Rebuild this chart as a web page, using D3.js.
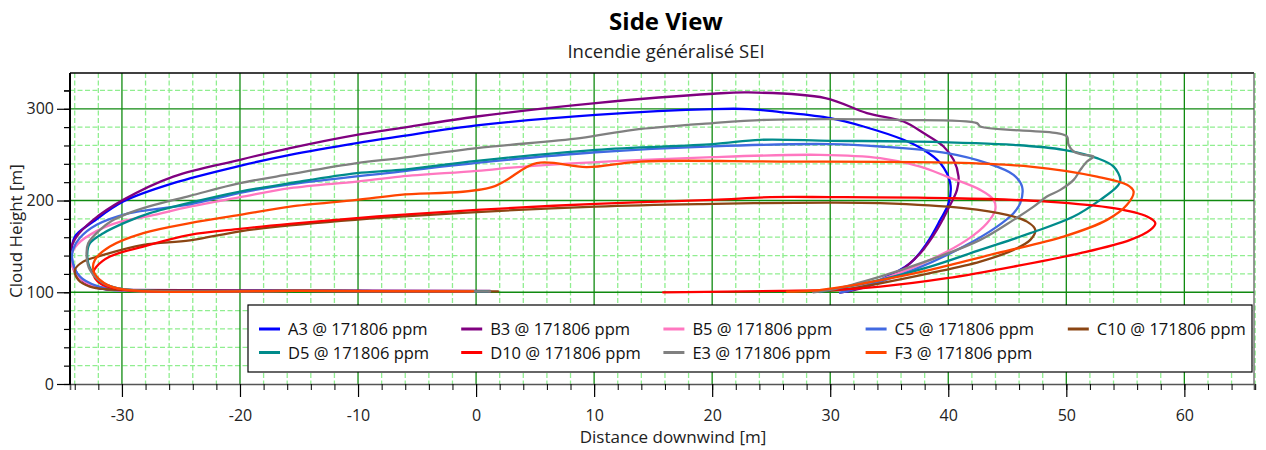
<!DOCTYPE html>
<html>
<head>
<meta charset="utf-8">
<script src="https://cdn.jsdelivr.net/npm/d3@7"></script>
<style>
  html, body { margin: 0; padding: 0; background: #fff; }
  svg { display: block; font-family: "Open Sans", "Noto Sans", sans-serif; }
</style>
</head>
<body>
<svg id="chart" width="1266" height="450"></svg>
<script>
// ---------------- DATA ----------------
const chartTitle = "Side View";
const chartSubtitle = "Incendie généralisé SEI";
const xAxisTitle = "Distance downwind [m]";
const yAxisTitle = "Cloud Height [m]";

const categories = ["A3 @ 171806 ppm", "B3 @ 171806 ppm", "B5 @ 171806 ppm", "C5 @ 171806 ppm", "C10 @ 171806 ppm",
                    "D5 @ 171806 ppm", "D10 @ 171806 ppm", "E3 @ 171806 ppm", "F3 @ 171806 ppm"];
const seriesColors = ["#0000FF", "#800080", "#FF77C0", "#4169E1", "#8B4513", "#008B8B", "#FF0000", "#808080", "#FF4500"];

const xMajorTicks = [-30, -20, -10, 0, 10, 20, 30, 40, 50, 60];
const yMajorTicks = [0, 100, 200, 300];

// A3
const a3X = [1.19, -14.9, -29.3, -31.58, -32.99, -33.98, -34.26, -33.98, -32.43, -29.89, -25.65, -20, -15.76, -10.11, -6.44, 0.06, 10.14, 20.08, 23.08, 25.76, 30, 32.82, 36.21, 37.91, 39.32, 40.17, 40.03, 39.32, 38.19, 36.78, 34.24, 31.42];
const a3Y = [100.9, 101.5, 102, 103.6, 109.8, 124.4, 138.9, 160.7, 177, 198.9, 218.9, 237.8, 249.8, 262.6, 269.8, 281.8, 293.4, 299.7, 299.7, 296.4, 289.8, 280.7, 266.2, 255.3, 240.8, 218.9, 197.1, 178.9, 153.5, 131.7, 113.5, 100.7];
// B3
const b3X = [1.19, -14.9, -29.6, -31.3, -32.43, -33.84, -34.26, -34.35, -33.84, -32.43, -29.89, -25.65, -20, -15.76, -10.11, -6.44, 0.06, 10.14, 20.08, 23.08, 29.58, 33.11, 36.21, 37.91, 39.6, 40.45, 40.87, 40.74, 40.17, 39.04, 37.63, 35.65, 33.11, 30.85];
const b3Y = [101.5, 102, 102.5, 103.3, 106.1, 118.9, 133, 146.2, 160.7, 178.9, 200.7, 226.1, 244.4, 257.1, 271.6, 278.9, 291.6, 306.2, 316.4, 317.8, 311.7, 295.3, 286.1, 273.5, 258.9, 244.4, 226.1, 211.6, 195.3, 168, 142.6, 120.8, 106.1, 99.5];
// B5
const b5X = [1.19, -14.9, -30.17, -32.43, -33.7, -34.26, -34.32, -33.73, -32.12, -30.17, -27.63, -24.24, -20, -15.76, -10.11, -6.44, 0.06, 4.83, 20.08, 29.15, 34.24, 37.63, 39.89, 42.71, 43.84, 43.98, 43.28, 41.58, 38.47, 34.24, 30.85];
const b5Y = [101, 101.5, 102, 106.9, 117.1, 129.8, 139.6, 152.7, 166.9, 176.7, 183.3, 193.4, 203.7, 213.5, 220.7, 226.1, 232.4, 237.8, 247.3, 249.8, 246.2, 237, 226.1, 211.6, 200.7, 189.8, 175.3, 157.1, 135.3, 113.5, 100.7];
// C5
const c5X = [1.19, -14.9, -30.17, -32.14, -33.56, -34.18, -34.15, -33.56, -32.14, -29.6, -24.24, -20, -15.76, -6.44, 0.06, 10.14, 20.08, 30, 34.24, 39.89, 43.28, 45.53, 46.25, 46.1, 45.53, 44.13, 41.3, 37.06, 32.82, 30.85];
const c5Y = [101, 101.5, 102.5, 106.9, 117.1, 133.1, 146.2, 159.3, 173.5, 185.5, 195.8, 208.4, 217.6, 231.6, 241.1, 252.6, 259.1, 261.5, 258.9, 251.7, 240.8, 228, 215.2, 197.1, 186.2, 171.6, 149.8, 124.4, 106.1, 99.6];
// C10
const c10X = [1.86, -14.9, -31.3, -32.71, -33.7, -33.98, -33.28, -31.58, -28.19, -24.24, -20, -15.76, -6.44, 10.14, 20.08, 30, 34.24, 41.3, 44.97, 46.67, 47.37, 46.95, 45.53, 42.71, 38.47, 34.24, 30.85, 28.58];
const c10Y = [101, 101.5, 103.3, 106.1, 113.5, 124.4, 133.4, 140.7, 151.6, 156.5, 166.4, 172.9, 182.5, 193.4, 196.4, 197.8, 197.1, 191.7, 184.4, 177, 168, 157.1, 146.2, 133.4, 120.8, 109.8, 102.5, 100.7];
// D5
const d5X = [1.0, -14.9, -29.89, -31.58, -32.63, -32.94, -32.71, -31.58, -29.6, -27.63, -24.24, -20, -15.76, -10.11, -6.44, 0.06, 10.14, 20.08, 24.07, 30, 37.06, 45.53, 49.77, 52.6, 54.01, 54.58, 54.3, 52.88, 50.62, 46.95, 42.71, 38.47, 34.24, 30, 29.15];
const d5Y = [101, 101.5, 103.3, 109.8, 124.4, 140.7, 153.5, 164.4, 176.7, 186.2, 197.6, 209.8, 218.9, 229.8, 233.4, 243.3, 255.3, 261.5, 266.2, 265.1, 264.3, 260.7, 255.3, 246.2, 237, 222.5, 215.2, 200.7, 182.5, 164.4, 146.2, 128, 113.5, 102.5, 100.3];
// D10
const d10X = [-0.5, -14.9, -30.17, -31.86, -32.43, -32.14, -31.02, -28.19, -24.24, -20, -15.76, -10.11, -6.44, 0.06, 10.14, 20.08, 24.92, 30, 39.89, 48.36, 54.01, 56.84, 57.54, 57.12, 55.42, 51.19, 45.53, 39.89, 34.24, 30, 25.76, 15.85];
const d10Y = [101, 101.5, 103.1, 109.8, 120.8, 128, 138.9, 149.8, 162.5, 169.1, 174.5, 180.8, 184.4, 189.8, 196.4, 200.7, 203.7, 203.7, 202.6, 198.9, 191.7, 182.5, 175.3, 168, 157.1, 142.6, 128, 115.3, 106.1, 102.5, 101.5, 99.8];
// E3
const e3X = [1.19, -14.9, -29.89, -31.58, -32.71, -32.99, -32.86, -31.86, -30.85, -29.6, -27.63, -24.24, -20, -15.76, -10.11, -6.44, 0.06, 8.81, 13.31, 20.08, 24.64, 30, 35.65, 42.43, 42.71, 49.21, 50.06, 50.19, 50.62, 51.47, 52.31, 51.75, 51.19, 50.62, 49.49, 48.36, 47.23, 45.53, 42.71, 38.47, 34.24, 30, 28.56];
const e3Y = [101, 101.5, 103.3, 109.8, 124.4, 138.9, 153.5, 168, 177.9, 185.5, 194, 205.1, 218.9, 228.7, 240.8, 246.2, 257.1, 268, 277.1, 284.4, 288, 288.8, 288, 284.4, 280.7, 273.5, 269.8, 260.7, 253.4, 249.8, 248, 242.5, 233.4, 222.5, 211.6, 204.3, 193.4, 178.9, 157.1, 135.3, 117.1, 102.5, 100];
// F3
const f3X = [-0.25, -14.9, -30.45, -31.86, -32.43, -32.29, -31.02, -28.19, -24.24, -20, -15.76, -10.11, -6.44, 1.33, 5.14, 9.38, 13.9, 25.76, 39.89, 46.95, 52.6, 55.14, 55.7, 55.14, 53.45, 49.77, 44.13, 38.47, 32.82, 28.58, 26.33];
const f3Y = [101, 101.5, 104.4, 113.5, 124.4, 135.3, 149.8, 164.4, 175.3, 184.4, 193.4, 200.7, 206.2, 214.6, 240.8, 236.4, 242.5, 242.5, 241.4, 237, 226.1, 217.1, 209.8, 195.3, 178.9, 160.7, 142.6, 124.4, 109.8, 101.8, 100.7];

const seriesX = [a3X, b3X, b5X, c5X, c10X, d5X, d10X, e3X, f3X];
const seriesY = [a3Y, b3Y, b5Y, c5Y, c10Y, d5Y, d10Y, e3Y, f3Y];

// ---------------- LAYOUT ----------------
const plot = { left: 70, right: 1254, top: 73, bottom: 384 };
const svg = d3.select("#chart");

const x = d3.scaleLinear().domain([-34.4, 65.9]).range([plot.left, plot.right]);
const y = d3.scaleLinear().domain([0, 339]).range([plot.bottom, plot.top]);

const xMinor = d3.range(-34, 66.1, 2);
const yMinor = d3.range(0, 339, 20);

// minor grid (dashed light green)
const g = svg.append("g");
g.selectAll("line.xminor").data(xMinor.filter(v => v % 10 !== 0)).join("line")
  .attr("x1", d => x(d)).attr("x2", d => x(d)).attr("y1", plot.top).attr("y2", plot.bottom)
  .attr("stroke", "#90EE90").attr("stroke-width", 1.3).attr("stroke-dasharray", "5,2.5");
g.selectAll("line.yminor").data(yMinor.filter(v => v % 100 !== 0)).join("line")
  .attr("x1", plot.left).attr("x2", plot.right).attr("y1", d => y(d)).attr("y2", d => y(d))
  .attr("stroke", "#90EE90").attr("stroke-width", 1.3).attr("stroke-dasharray", "5,2.5");
// major grid
g.selectAll("line.xmajor").data(xMajorTicks).join("line")
  .attr("x1", d => x(d)).attr("x2", d => x(d)).attr("y1", plot.top).attr("y2", plot.bottom)
  .attr("stroke", "#108a10").attr("stroke-width", 1.3);
g.selectAll("line.ymajor").data(yMajorTicks.filter(v => v > 0)).join("line")
  .attr("x1", plot.left).attr("x2", plot.right).attr("y1", d => y(d)).attr("y2", d => y(d))
  .attr("stroke", "#108a10").attr("stroke-width", 1.3);

// frame
svg.append("line").attr("x1", plot.left).attr("x2", plot.right).attr("y1", plot.top).attr("y2", plot.top)
  .attr("stroke", "#000").attr("stroke-width", 1.6);
svg.append("line").attr("x1", plot.right).attr("x2", plot.right).attr("y1", plot.top).attr("y2", plot.bottom)
  .attr("stroke", "#555").attr("stroke-width", 1.2);

// series
const line = d3.line()
  .x(d => x(d[0])).y(d => y(d[1]))
  .curve(d3.curveCatmullRom.alpha(0.5));
const plotG = svg.append("g");
seriesX.forEach((xs, i) => {
  const pts = xs.map((v, j) => [v, seriesY[i][j]]);
  plotG.append("path").datum(pts)
    .attr("d", line)
    .attr("fill", "none")
    .attr("stroke", seriesColors[i])
    .attr("stroke-width", 2.3)
    .attr("stroke-linejoin", "round")
    .attr("stroke-linecap", "round");
});

// axes
const fmt = d => String(d);
const xAxis = d3.axisBottom(x).tickValues(xMinor).tickSize(6).tickFormat("");
const xAx = svg.append("g").attr("transform", `translate(0,${plot.bottom})`).call(xAxis);
xAx.select(".domain").attr("stroke", "#555").attr("stroke-width", 1.6);
xAx.selectAll(".tick line").attr("stroke", "#000").attr("stroke-width", 1);
const xAxisMaj = d3.axisBottom(x).tickValues(xMajorTicks).tickSize(13).tickPadding(13).tickFormat(fmt);
const xAxM = svg.append("g").attr("transform", `translate(0,${plot.bottom})`).call(xAxisMaj);
xAxM.select(".domain").remove();
xAxM.selectAll(".tick line").attr("stroke", "#000").attr("stroke-width", 1.2);
xAxM.selectAll(".tick text").attr("font-size", 16).attr("fill", "#222").attr("font-family", "'Open Sans', sans-serif");

const yAxis = d3.axisLeft(y).tickValues(yMinor.concat([320])).tickSize(6).tickFormat("");
const yAx = svg.append("g").attr("transform", `translate(${plot.left},0)`).call(yAxis);
yAx.select(".domain").remove();
yAx.selectAll(".tick line").attr("stroke", "#000").attr("stroke-width", 1.2);
const yAxisMaj = d3.axisLeft(y).tickValues(yMajorTicks).tickSize(13).tickPadding(3).tickFormat(fmt);
const yAxM = svg.append("g").attr("transform", `translate(${plot.left},0)`).call(yAxisMaj);
yAxM.select(".domain").remove();
yAxM.selectAll(".tick line").attr("stroke", "#000").attr("stroke-width", 1.2);
yAxM.selectAll(".tick text").attr("font-size", 16).attr("fill", "#222").attr("font-family", "'Open Sans', sans-serif");
svg.append("line").attr("x1", plot.left).attr("x2", plot.left).attr("y1", plot.top).attr("y2", plot.bottom + 1)
  .attr("stroke", "#000").attr("stroke-width", 2);

// titles
svg.append("text").attr("x", 666).attr("y", 30).attr("text-anchor", "middle")
  .attr("font-size", 24).attr("font-weight", "bold").attr("fill", "#000").text(chartTitle);
svg.append("text").attr("x", 666).attr("y", 58).attr("text-anchor", "middle")
  .attr("font-size", 18.5).attr("fill", "#222").text(chartSubtitle);
svg.append("text").attr("x", 673).attr("y", 443).attr("text-anchor", "middle")
  .attr("font-size", 17).attr("fill", "#222").text(xAxisTitle);
svg.append("text").attr("transform", "translate(22,231) rotate(-90)").attr("text-anchor", "middle")
  .attr("font-size", 17).attr("fill", "#222").text(yAxisTitle);

// legend
const leg = svg.append("g");
leg.append("rect").attr("x", 248).attr("y", 305).attr("width", 1004).attr("height", 67)
  .attr("fill", "#fff").attr("stroke", "#000").attr("stroke-width", 1.2);
const colW = 202.2;
categories.forEach((name, i) => {
  const col = i % 5, row = Math.floor(i / 5);
  const lx = 259 + col * colW, ly = 329 + row * 23.5;
  leg.append("line").attr("x1", lx).attr("x2", lx + 21).attr("y1", ly).attr("y2", ly)
    .attr("stroke", seriesColors[i]).attr("stroke-width", 3);
  leg.append("text").attr("x", lx + 29).attr("y", ly + 6).attr("font-size", 16.5).attr("fill", "#111").text(name);
});
</script>
</body>
</html>
